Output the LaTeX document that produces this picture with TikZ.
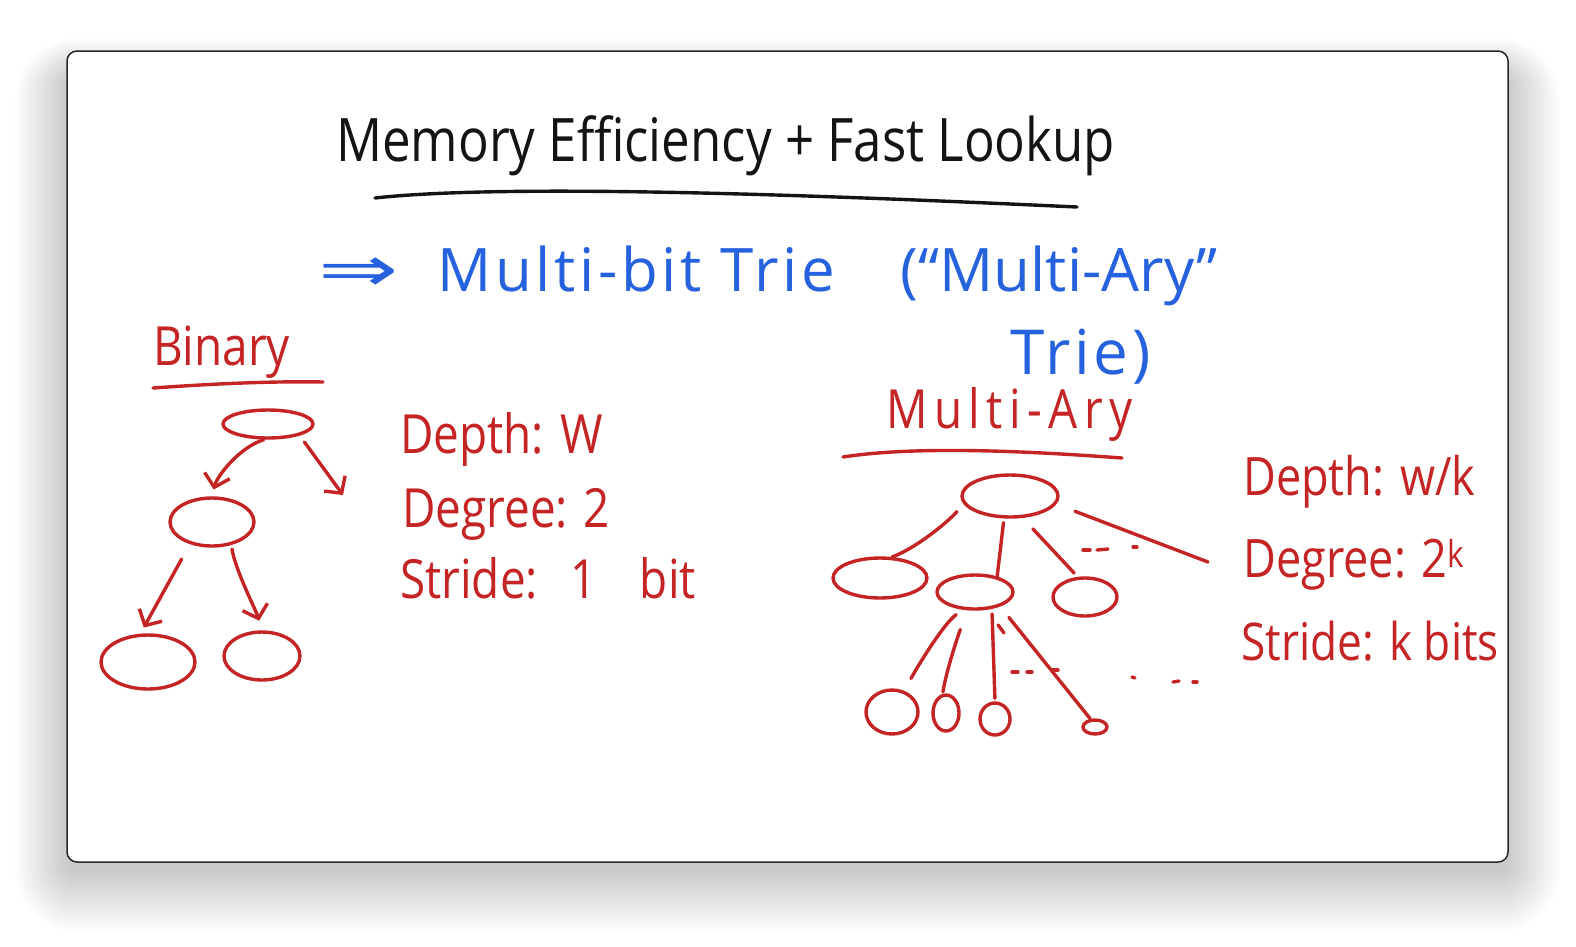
\documentclass[tikz,border=0pt]{standalone}
\usepackage{fontspec}
\setmainfont[FakeStretch=0.85]{Open Sans}
\newfontfamily\widehand[LetterSpace=6]{Open Sans}
\newfontfamily\blueplain{Open Sans}
\newfontfamily\spacedhand[FakeStretch=0.85,LetterSpace=12]{Open Sans}
\newfontfamily\symhand{DejaVu Sans}
\usetikzlibrary{shapes.geometric,arrows.meta}
\definecolor{penred}{RGB}{196,36,36}
\definecolor{penblue}{RGB}{38,98,222}
\definecolor{penblack}{RGB}{20,20,20}

\begin{document}
\begin{tikzpicture}[x=1pt, y=-1pt,
    pen/.style={line width=3.4pt, line cap=round, line join=round},
    knot/.style={draw=penred, pen, ellipse, inner sep=0pt},
    arr/.style={pen, draw=penred, -{Straight Barb[length=12pt,width=26pt]}},
    twig/.style={pen, draw=penred},
    redtxt/.style={text=penred, inner sep=0pt, anchor=base west, font=\fontsize{54}{60}\selectfont}]
  % card with its shadow
  \useasboundingbox (0,0) rectangle (1576,946);
  \fill[white] (0,0) rectangle (1576,946);
  \foreach \i in {1,...,26}
    \fill[black, opacity=0.008, rounded corners=10pt+\i*2pt] (67-\i*2, 51+26-\i*1.5) rectangle (1508+\i*2, 862+10+\i*2.3);
  \draw[black!85, line width=1.5pt, fill=white, rounded corners=10pt] (67,51) rectangle (1508,862);

  % heading
  \node[anchor=base west, inner sep=0pt, text=penblack, font=\fontsize{60}{65}\selectfont] (title) at (336,161) {Memory Efficiency + Fast Lookup};
  \draw[pen, penblack] (375,198) .. controls (520,182) and (880,198) .. (1077,207);
  \node[anchor=base west, inner sep=0pt, text=penblue, font=\widehand\fontsize{60}{66}\selectfont] (multibit) at (318,291) {\scalebox{1.5}[1]{\symhand\fontsize{64}{66}\selectfont ⇒}\hspace{0.65em}Multi-bit Trie\hspace{1.1em}{\blueplain (“Multi-Ary”}};
  \node[anchor=base west, inner sep=0pt, text=penblue, font=\widehand\fontsize{62}{66}\selectfont] (trie) at (1010,374) {Trie)};

  % binary trie
  \node[redtxt] (binary) at (153,365) {Binary};
  \draw[pen, penred] (153,388) .. controls (210,384) and (270,381) .. (323,382);
  \node[knot, minimum width=90pt, minimum height=28pt] (broot) at (268,424) {};
  \node[knot, minimum width=84pt, minimum height=48pt] (bleft) at (212,522) {};
  \node[knot, minimum width=94pt, minimum height=54pt] (bleaf1) at (148,662) {};
  \node[knot, minimum width=76pt, minimum height=48pt] (bleaf2) at (262,656) {};
  \coordinate (bfree) at (343,495);
  \draw[arr, shorten >=7pt] (broot.255) .. controls +(-25,8) and +(5,-20) .. (bleft.north);
  \draw[arr, shorten <=8pt] (broot.-20) -- (bfree);
  \draw[arr, shorten <=17pt, shorten >=7pt] (bleft.225) -- (bleaf1.105);
  \draw[arr, shorten <=4pt, shorten >=10pt] (bleft.-50) .. controls +(4,25) and +(-6,-20) .. (bleaf2.north);
  \node[redtxt] (bdepth) at (400,453) {Depth: W};
  \node[redtxt] (bdegree) at (402,527) {Degree: 2};
  \node[redtxt] (bstride) at (400,598) {Stride:\hspace{0.6em}1\hspace{0.8em}bit};

  % multi-ary trie
  \node[redtxt, font=\spacedhand\fontsize{54}{60}\selectfont] (multiary) at (886,428) {Multi-Ary};
  \draw[pen, penred] (843,457) .. controls (920,445) and (1040,452) .. (1122,458);
  \node[knot, minimum width=96pt, minimum height=42pt] (mroot) at (1010,496) {};
  \node[knot, minimum width=94pt, minimum height=40pt] (mc1) at (880,578) {};
  \node[knot, minimum width=76pt, minimum height=34pt] (mc2) at (975,592) {};
  \node[knot, minimum width=64pt, minimum height=38pt] (mc3) at (1085,597) {};
  \node[knot, minimum width=52pt, minimum height=44pt] (mg1) at (892,712) {};
  \node[knot, minimum width=26pt, minimum height=36pt] (mg2) at (946,713) {};
  \node[knot, minimum width=30pt, minimum height=32pt] (mg3) at (995,719) {};
  \node[knot, minimum width=24pt, minimum height=14pt] (mg4) at (1095,727) {};
  \coordinate (mfree) at (1208,562);
  \draw[twig, shorten <=10pt] (mroot.190) .. controls +(-18,20) and +(22,-8) .. (mc1.60);
  \draw[twig, shorten <=4pt] (mroot.255) -- (mc2.35);
  \draw[twig, shorten <=15pt, shorten >=5pt] (mroot.300) -- (mc3.110);
  \draw[twig, shorten <=20pt] (mroot.-10) -- (mfree);
  \draw[twig, shorten <=8pt, shorten >=14pt] (mc2.235) .. controls +(-20,15) and +(12,-22) .. (mg1.60);
  \draw[twig, shorten <=22pt, shorten >=2pt] (mc2.260) .. controls +(-12,20) and +(4,-25) .. (mg2.100);
  \draw[twig, shorten <=5pt, shorten >=3pt] (mc2.-45) -- (mg3.north);
  \draw[twig, shorten <=14pt] (mc2.-30) -- (mg4.120);
  \draw[twig] (998,625) -- (1004,633);
  \foreach \xa/\ya/\xb/\yb in {1083/550/1090/550, 1097/550/1108/549, 1133/547/1137/547,
      1012/672/1018/672, 1027/672/1032/672, 1053/670/1058/670,
      1132/677/1135/678, 1173/682/1179/681, 1193/682/1197/682}
    \draw[twig] (\xa,\ya) -- (\xb,\yb);
  \node[redtxt, font=\fontsize{53}{60}\selectfont] (mdepth) at (1243,495) {Depth: w/k};
  \node[redtxt, font=\fontsize{53}{60}\selectfont] (mdegree) at (1243,577) {Degree: 2\textsuperscript{k}};
  \node[redtxt, font=\fontsize{52}{60}\selectfont] (mstride) at (1241,660) {Stride: k bits};
\end{tikzpicture}
\end{document}
